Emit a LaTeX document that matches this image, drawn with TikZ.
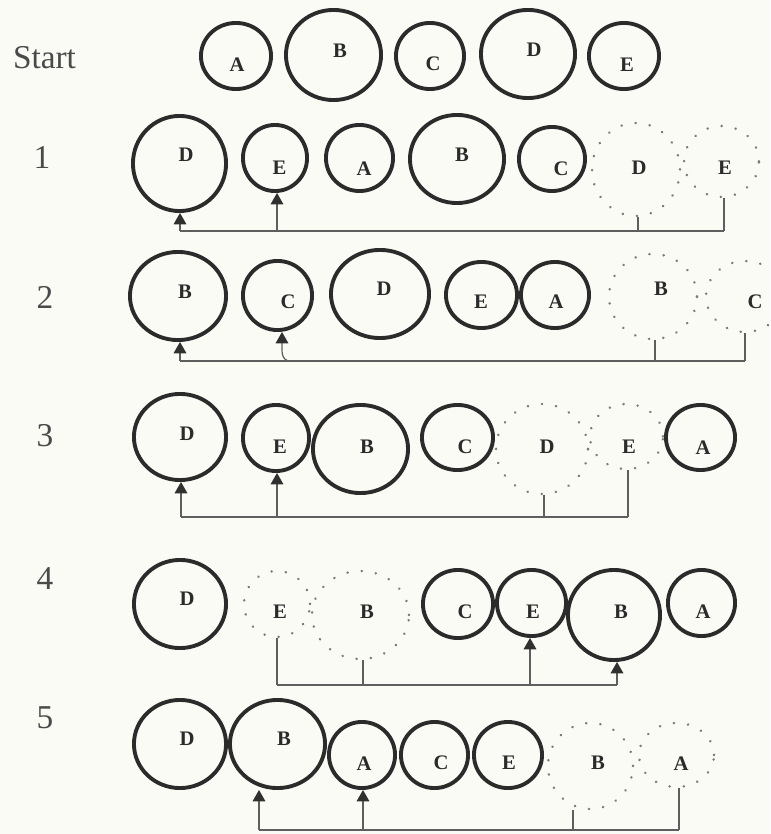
\documentclass[tikz,border=0pt]{standalone}
\usepackage{fontspec}
\setmainfont{Liberation Serif}
\usetikzlibrary{shapes.geometric,arrows.meta}
\definecolor{ink}{HTML}{2B2B2B}
\definecolor{dotc}{HTML}{7A7A7A}
\definecolor{wire}{HTML}{5E5E5E}
\definecolor{tipc}{HTML}{303030}
\definecolor{paper}{HTML}{FBFBF6}
\definecolor{numc}{HTML}{4A4A4A}
\tikzset{
 ball/.style 2 args={ellipse, draw=ink, line width=2.9pt, inner sep=0pt,
   minimum width={(#1-3.9)*0.75pt}, minimum height={(#2-3.9)*0.75pt}},
 ghost/.style 2 args={ellipse, draw=dotc, line width=1.9pt, line cap=round,
   dash pattern=on 0.2pt off 10.5pt, inner sep=0pt,
   minimum width={(#1-2)*0.75pt}, minimum height={(#2-2)*0.75pt}},
 letter/.style={inner sep=0pt, text=ink, font=\fontsize{15.5}{15.5}\selectfont\bfseries},
 rowlbl/.style={inner sep=0pt, text=numc, font=\fontsize{25}{25}\selectfont},
 wireline/.style={draw=wire, line width=0.9pt},
 uparrow/.style={wireline, -{Triangle[width=9.5pt,length=8.5pt,color=tipc]}},
}
\begin{document}
\begin{tikzpicture}[x=0.75pt,y=-0.75pt]
\fill[paper] (0,0) rectangle (770,834);
\useasboundingbox (0,0) rectangle (770,834);

% ---------- Start ----------
\node[rowlbl] (lS) at (44.5,58) {Start};
\node[ball={74}{70}] (sA) at (236,56) {};
\node[ball={99}{94}] (sB) at (333.5,55) {};
\node[ball={72}{70}] (sC) at (430,56) {};
\node[ball={98}{92}] (sD) at (528,54) {};
\node[ball={74}{70}] (sE) at (624,56) {};
\node[letter] (sAt) at (237,65) {A};
\node[letter] (sBt) at (340,51) {B};
\node[letter] (sCt) at (433,64) {C};
\node[letter] (sDt) at (534,50) {D};
\node[letter] (sEt) at (627,65) {E};

% ---------- Row 1 ----------
\node[rowlbl] (l1) at (42,157) {1};
\node[ghost={90}{95}] (g1D) at (636,169.5) {};
\node[ghost={77}{73}] (g1E) at (721.5,161.5) {};
\node[ball={97}{99}] (r1D) at (179.5,163.5) {};
\node[ball={68}{70}] (r1E) at (275,158) {};
\node[ball={71}{70}] (r1A) at (359.5,158) {};
\node[ball={98}{92}] (r1B) at (457,159) {};
\node[ball={70}{68}] (r1C) at (552,159) {};
\node[letter] (r1Dt) at (186,155) {D};
\node[letter] (r1Et) at (279.5,168) {E};
\node[letter] (r1At) at (364,169) {A};
\node[letter] (r1Bt) at (462,155) {B};
\node[letter] (r1Ct) at (561,169) {C};
\node[letter] (g1Dt) at (639,168) {D};
\node[letter] (g1Et) at (725,168) {E};
\coordinate (j1a) at (180,231);
\coordinate (j1b) at (277,231);
\coordinate (j1c) at (638,231);
\coordinate (j1d) at (724,231);
\draw[wireline] (j1a) -- (j1d);
\draw[uparrow] (j1a) -- (j1a |- r1D.south);
\draw[uparrow] (j1b) -- (j1b |- r1E.south);
\draw[wireline] (g1D.south -| j1c) -- (j1c);
\draw[wireline] (g1E.south -| j1d) -- (j1d);

% ---------- Row 2 ----------
\node[rowlbl] (l2) at (45,297) {2};
\node[ghost={90}{87}] (g2B) at (653,296.5) {};
\node[ghost={80}{73}] (g2C) at (745,296.5) {};
\node[ball={100}{92}] (r2B) at (178,296) {};
\node[ball={73}{73}] (r2C) at (277.5,295.5) {};
\node[ball={102}{92}] (r2D) at (380,294) {};
\node[ball={75}{70}] (r2E) at (481.5,295) {};
\node[ball={72}{70}] (r2A) at (555,295) {};
\node[letter] (r2Bt) at (185,292) {B};
\node[letter] (r2Ct) at (288,302) {C};
\node[letter] (r2Dt) at (384,289) {D};
\node[letter] (r2Et) at (481,302) {E};
\node[letter] (r2At) at (556,302) {A};
\node[letter] (g2Bt) at (661,289) {B};
\node[letter] (g2Ct) at (755,302) {C};
\coordinate (j2a) at (180,361);
\coordinate (j2b) at (288,361);
\coordinate (k2b) at (282,350);
\coordinate (j2c) at (655,361);
\coordinate (j2d) at (745,361);
\draw[wireline] (j2a) -- (j2d);
\draw[uparrow] (j2a) -- (j2a |- r2B.south);
\draw[uparrow] (j2b) .. controls (283,359) and (282,355) .. (k2b) -- (k2b |- r2C.south);
\draw[wireline] (g2B.south -| j2c) -- (j2c);
\draw[wireline] (g2C.south -| j2d) -- (j2d);

% ---------- Row 3 ----------
\node[rowlbl] (l3) at (45,436) {3};
\node[ghost={94}{92}] (g3D) at (542,449) {};
\node[ghost={75}{67}] (g3E) at (626.5,436.5) {};
\node[ball={96}{90}] (r3D) at (180,437) {};
\node[ball={70}{70}] (r3E) at (276,438) {};
\node[ball={99}{92}] (r3B) at (360.5,449) {};
\node[ball={75}{69}] (r3C) at (457.5,437.5) {};
\node[ball={73}{69}] (r3A) at (700.5,437.5) {};
\node[letter] (r3Dt) at (187,434) {D};
\node[letter] (r3Et) at (280,447) {E};
\node[letter] (r3Bt) at (367,447) {B};
\node[letter] (r3Ct) at (465,447) {C};
\node[letter] (g3Dt) at (547,447) {D};
\node[letter] (g3Et) at (629,447) {E};
\node[letter] (r3At) at (703,448) {A};
\coordinate (j3a) at (181,517);
\coordinate (j3b) at (277,517);
\coordinate (j3c) at (544,517);
\coordinate (j3d) at (628,517);
\draw[wireline] (j3a) -- (j3d);
\draw[uparrow] (j3a) -- (j3a |- r3D.south);
\draw[uparrow] (j3b) -- (j3b |- r3E.south);
\draw[wireline] (g3D.south -| j3c) -- (j3c);
\draw[wireline] (g3E.south -| j3d) -- (j3d);

% ---------- Row 4 ----------
\node[rowlbl] (l4) at (45,579) {4};
\node[ghost={68}{68}] (g4E) at (277,604) {};
\node[ghost={99}{90}] (g4B) at (360.5,615) {};
\node[ball={96}{92}] (r4D) at (180,604) {};
\node[ball={74}{72}] (r4C) at (458,604) {};
\node[ball={73}{70}] (r4E) at (531.5,603) {};
\node[ball={96}{94}] (r4B) at (614,615) {};
\node[ball={71}{70}] (r4A) at (701.5,603) {};
\node[letter] (r4Dt) at (187,599) {D};
\node[letter] (g4Et) at (280,612) {E};
\node[letter] (g4Bt) at (367,612) {B};
\node[letter] (r4Ct) at (465,612) {C};
\node[letter] (r4Et) at (533,612) {E};
\node[letter] (r4Bt) at (621,612) {B};
\node[letter] (r4At) at (703,612) {A};
\coordinate (j4a) at (277,685);
\coordinate (j4b) at (363,685);
\coordinate (j4c) at (530,685);
\coordinate (j4d) at (617,685);
\draw[wireline] (j4a) -- (j4d);
\draw[wireline] (g4E.south -| j4a) -- (j4a);
\draw[wireline] (g4B.south -| j4b) -- (j4b);
\draw[uparrow] (j4c) -- (j4c |- r4E.south);
\draw[uparrow] (j4d) -- (j4d |- r4B.south);

% ---------- Row 5 ----------
\node[rowlbl] (l5) at (45,718) {5};
\node[ghost={87}{88}] (g5B) at (590.5,766) {};
\node[ghost={77}{66}] (g5A) at (676.5,755) {};
\node[ball={96}{92}] (r5D) at (180,744) {};
\node[ball={99}{92}] (r5B) at (277.5,744) {};
\node[ball={70}{70}] (r5A) at (362,755) {};
\node[ball={71}{70}] (r5C) at (434.5,755) {};
\node[ball={72}{70}] (r5E) at (508,755) {};
\node[letter] (r5Dt) at (187,739) {D};
\node[letter] (r5Bt) at (284,739) {B};
\node[letter] (r5At) at (364,764) {A};
\node[letter] (r5Ct) at (441,763) {C};
\node[letter] (r5Et) at (509,763) {E};
\node[letter] (g5Bt) at (598,763) {B};
\node[letter] (g5At) at (681,764) {A};
\coordinate (j5a) at (259,830);
\coordinate (j5b) at (363,830);
\coordinate (j5c) at (573,830);
\coordinate (j5d) at (679,830);
\draw[wireline] (j5a) -- (j5d);
\draw[uparrow] (j5a) -- (j5a |- r5B.south);
\draw[uparrow] (j5b) -- (j5b |- r5A.south);
\draw[wireline] (g5B.south -| j5c) -- (j5c);
\draw[wireline] (g5A.south -| j5d) -- (j5d);
\end{tikzpicture}
\end{document}
